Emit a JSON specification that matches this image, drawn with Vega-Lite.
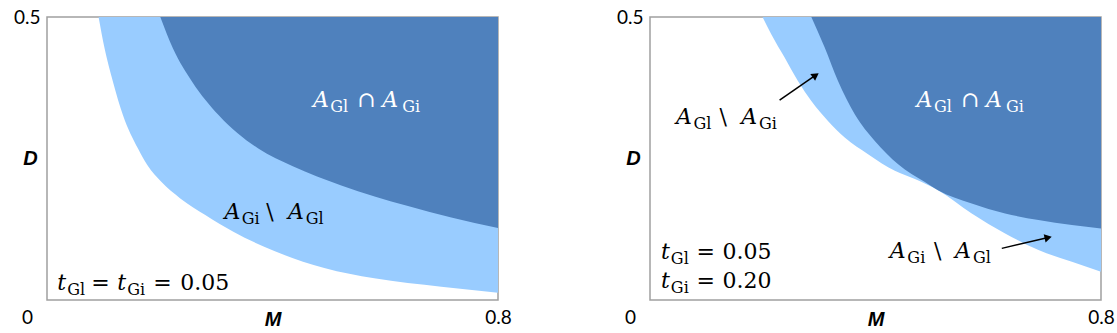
{
  "$schema": "https://vega.github.io/schema/vega-lite/v6.json",
  "background": "white",
  "padding": {"left": 12, "top": 7, "right": 5, "bottom": 5},
  "spacing": 102,
  "config": {
    "view": {"stroke": "#a0a0a0", "strokeWidth": 1.5},
    "axis": {"grid": false, "ticks": false, "domain": false, "labelFont": "Lato", "labelFontSize": 19, "labelColor": "#000000", "titleFont": "Liberation Sans", "titleFontSize": 20, "titleFontWeight": "bold", "titleFontStyle": "italic", "titleColor": "#000000"}
  },
  "datasets": {
    "boundaries": [
      {"panel": "left", "region": "light", "M": 0.0915, "D": 0.5},
      {"panel": "left", "region": "light", "M": 0.1022, "D": 0.4442},
      {"panel": "left", "region": "light", "M": 0.1171, "D": 0.3853},
      {"panel": "left", "region": "light", "M": 0.1348, "D": 0.3265},
      {"panel": "left", "region": "light", "M": 0.1614, "D": 0.2677},
      {"panel": "left", "region": "light", "M": 0.1779, "D": 0.2383},
      {"panel": "left", "region": "light", "M": 0.2027, "D": 0.2088},
      {"panel": "left", "region": "light", "M": 0.2364, "D": 0.1795},
      {"panel": "left", "region": "light", "M": 0.2808, "D": 0.15},
      {"panel": "left", "region": "light", "M": 0.3305, "D": 0.1205},
      {"panel": "left", "region": "light", "M": 0.4032, "D": 0.0865},
      {"panel": "left", "region": "light", "M": 0.4919, "D": 0.0565},
      {"panel": "left", "region": "light", "M": 0.5806, "D": 0.0383},
      {"panel": "left", "region": "light", "M": 0.6994, "D": 0.0235},
      {"panel": "left", "region": "light", "M": 0.8, "D": 0.0129},
      {"panel": "left", "region": "dark", "M": 0.201, "D": 0.5},
      {"panel": "left", "region": "dark", "M": 0.2235, "D": 0.4442},
      {"panel": "left", "region": "dark", "M": 0.2577, "D": 0.3853},
      {"panel": "left", "region": "dark", "M": 0.3047, "D": 0.3265},
      {"panel": "left", "region": "dark", "M": 0.3748, "D": 0.2677},
      {"panel": "left", "region": "dark", "M": 0.436, "D": 0.2365},
      {"panel": "left", "region": "dark", "M": 0.522, "D": 0.2025},
      {"panel": "left", "region": "dark", "M": 0.6403, "D": 0.1659},
      {"panel": "left", "region": "dark", "M": 0.7172, "D": 0.1456},
      {"panel": "left", "region": "dark", "M": 0.8, "D": 0.1271},
      {"panel": "right", "region": "light", "M": 0.1996, "D": 0.5},
      {"panel": "right", "region": "light", "M": 0.2151, "D": 0.4695},
      {"panel": "right", "region": "light", "M": 0.2388, "D": 0.4283},
      {"panel": "right", "region": "light", "M": 0.2624, "D": 0.387},
      {"panel": "right", "region": "light", "M": 0.2862, "D": 0.3517},
      {"panel": "right", "region": "light", "M": 0.3157, "D": 0.3164},
      {"panel": "right", "region": "light", "M": 0.3454, "D": 0.2871},
      {"panel": "right", "region": "light", "M": 0.3868, "D": 0.2577},
      {"panel": "right", "region": "light", "M": 0.4343, "D": 0.2282},
      {"panel": "right", "region": "light", "M": 0.4699, "D": 0.2136},
      {"panel": "right", "region": "light", "M": 0.5108, "D": 0.1941},
      {"panel": "right", "region": "light", "M": 0.5707, "D": 0.153},
      {"panel": "right", "region": "light", "M": 0.6299, "D": 0.1177},
      {"panel": "right", "region": "light", "M": 0.6891, "D": 0.0882},
      {"panel": "right", "region": "light", "M": 0.7484, "D": 0.0676},
      {"panel": "right", "region": "light", "M": 0.8, "D": 0.05},
      {"panel": "right", "region": "dark", "M": 0.2862, "D": 0.5},
      {"panel": "right", "region": "dark", "M": 0.3099, "D": 0.446},
      {"panel": "right", "region": "dark", "M": 0.3335, "D": 0.387},
      {"panel": "right", "region": "dark", "M": 0.3632, "D": 0.3283},
      {"panel": "right", "region": "dark", "M": 0.3988, "D": 0.2811},
      {"panel": "right", "region": "dark", "M": 0.4402, "D": 0.24},
      {"panel": "right", "region": "dark", "M": 0.4876, "D": 0.2083},
      {"panel": "right", "region": "dark", "M": 0.5108, "D": 0.1941},
      {"panel": "right", "region": "dark", "M": 0.5707, "D": 0.1707},
      {"panel": "right", "region": "dark", "M": 0.6299, "D": 0.153},
      {"panel": "right", "region": "dark", "M": 0.6891, "D": 0.1412},
      {"panel": "right", "region": "dark", "M": 0.7484, "D": 0.1324},
      {"panel": "right", "region": "dark", "M": 0.8, "D": 0.1265}
    ],
    "labels": [
      {"panel": "left", "part": "symbol", "text": "A", "on": "dark", "M": 0.4718, "D": 0.3412},
      {"panel": "left", "part": "subscript", "text": "Gl", "on": "dark", "M": 0.5025, "D": 0.3412},
      {"panel": "left", "part": "operator", "text": "∩", "on": "dark", "M": 0.5504, "D": 0.3412},
      {"panel": "left", "part": "symbol", "text": "A", "on": "dark", "M": 0.5945, "D": 0.3412},
      {"panel": "left", "part": "subscript", "text": "Gi", "on": "dark", "M": 0.63, "D": 0.3412},
      {"panel": "left", "part": "symbol", "text": "A", "on": "light", "M": 0.315, "D": 0.143},
      {"panel": "left", "part": "subscript", "text": "Gi", "on": "light", "M": 0.3455, "D": 0.143},
      {"panel": "left", "part": "operator", "text": "\\", "on": "light", "M": 0.389, "D": 0.143},
      {"panel": "left", "part": "symbol", "text": "A", "on": "light", "M": 0.4275, "D": 0.143},
      {"panel": "left", "part": "subscript", "text": "Gl", "on": "light", "M": 0.4591, "D": 0.143},
      {"panel": "left", "part": "symbol", "text": "t", "on": "white", "M": 0.0183, "D": 0.0176},
      {"panel": "left", "part": "subscript", "text": "Gl", "on": "white", "M": 0.036, "D": 0.0176},
      {"panel": "left", "part": "operator", "text": "=", "on": "white", "M": 0.0786, "D": 0.0176},
      {"panel": "left", "part": "symbol", "text": "t", "on": "white", "M": 0.1247, "D": 0.0176},
      {"panel": "left", "part": "subscript", "text": "Gi", "on": "white", "M": 0.1424, "D": 0.0176},
      {"panel": "left", "part": "operator", "text": "=", "on": "white", "M": 0.1885, "D": 0.0176},
      {"panel": "left", "part": "operator", "text": "0.05", "on": "white", "M": 0.2364, "D": 0.0176},
      {"panel": "right", "part": "symbol", "text": "A", "on": "dark", "M": 0.4729, "D": 0.3412},
      {"panel": "right", "part": "subscript", "text": "Gl", "on": "dark", "M": 0.5036, "D": 0.3412},
      {"panel": "right", "part": "operator", "text": "∩", "on": "dark", "M": 0.5516, "D": 0.3412},
      {"panel": "right", "part": "symbol", "text": "A", "on": "dark", "M": 0.5958, "D": 0.3412},
      {"panel": "right", "part": "subscript", "text": "Gi", "on": "dark", "M": 0.6314, "D": 0.3412},
      {"panel": "right", "part": "symbol", "text": "A", "on": "white", "M": 0.0462, "D": 0.3118},
      {"panel": "right", "part": "subscript", "text": "Gl", "on": "white", "M": 0.077, "D": 0.3118},
      {"panel": "right", "part": "operator", "text": "\\", "on": "white", "M": 0.1232, "D": 0.3118},
      {"panel": "right", "part": "symbol", "text": "A", "on": "white", "M": 0.1618, "D": 0.3118},
      {"panel": "right", "part": "subscript", "text": "Gi", "on": "white", "M": 0.1934, "D": 0.3118},
      {"panel": "right", "part": "symbol", "text": "A", "on": "white", "M": 0.4254, "D": 0.0736},
      {"panel": "right", "part": "subscript", "text": "Gi", "on": "white", "M": 0.4565, "D": 0.0736},
      {"panel": "right", "part": "operator", "text": "\\", "on": "white", "M": 0.5036, "D": 0.0736},
      {"panel": "right", "part": "symbol", "text": "A", "on": "white", "M": 0.541, "D": 0.0736},
      {"panel": "right", "part": "subscript", "text": "Gl", "on": "white", "M": 0.573, "D": 0.0736},
      {"panel": "right", "part": "symbol", "text": "t", "on": "white", "M": 0.0196, "D": 0.0718},
      {"panel": "right", "part": "subscript", "text": "Gl", "on": "white", "M": 0.037, "D": 0.0718},
      {"panel": "right", "part": "operator", "text": "=", "on": "white", "M": 0.0823, "D": 0.0718},
      {"panel": "right", "part": "operator", "text": "0.05", "on": "white", "M": 0.1285, "D": 0.0718},
      {"panel": "right", "part": "symbol", "text": "t", "on": "white", "M": 0.0196, "D": 0.0206},
      {"panel": "right", "part": "subscript", "text": "Gi", "on": "white", "M": 0.037, "D": 0.0206},
      {"panel": "right", "part": "operator", "text": "=", "on": "white", "M": 0.0823, "D": 0.0206},
      {"panel": "right", "part": "operator", "text": "0.20", "on": "white", "M": 0.1285, "D": 0.0206}
    ],
    "arrows": [
      {"panel": "right", "arrow": "a1", "M": 0.2939, "D": 0.3971, "M2": 0.2299, "D2": 0.353},
      {"panel": "right", "arrow": "a2", "M": 0.7063, "D": 0.1103, "M2": 0.624, "D2": 0.0912}
    ]
  },
  "hconcat": [
    {
      "width": 451,
      "height": 283,
      "encoding": {
        "x": {"field": "M", "type": "quantitative", "scale": {"domain": [0, 0.8], "nice": false, "zero": false},
          "axis": {"values": [0, 0.8], "format": ".1~f", "title": "M", "labelFlush": false, "labelPadding": 8,
            "labelOffset": {"condition": {"test": "datum.value == 0", "value": -20}, "value": 0},
            "titleX": 225.5, "titleY": 19, "titleBaseline": "middle", "titleAlign": "center"}},
        "y": {"field": "D", "type": "quantitative", "stack": null, "scale": {"domain": [0, 0.5], "nice": false, "zero": false},
          "axis": {"values": [0.5], "format": ".1f", "title": "D", "titleAngle": 0, "titleX": -17, "titleY": 141.5, "titleAlign": "center", "titleBaseline": "middle", "labelPadding": 7}}
      },
      "layer": [
        {"data": {"name": "boundaries"}, "transform": [{"filter": "datum.panel == 'left' && datum.region == 'light'"}],
          "mark": {"type": "area", "color": "#99CCFF", "interpolate": "monotone", "clip": true, "opacity": 1},
          "encoding": {"y2": {"datum": 0.5}}},
        {"data": {"name": "boundaries"}, "transform": [{"filter": "datum.panel == 'left' && datum.region == 'dark'"}],
          "mark": {"type": "area", "color": "#4F81BD", "interpolate": "monotone", "clip": true, "opacity": 1},
          "encoding": {"y2": {"datum": 0.5}}},
        {"data": {"name": "labels"}, "transform": [{"filter": "datum.panel == 'left' && datum.part == 'symbol'"}],
          "mark": {"type": "text", "align": "left", "baseline": "alphabetic", "font": "DejaVu Serif", "fontSize": 22, "fontStyle": "italic"},
          "encoding": {"text": {"field": "text"}, "color": {"field": "on", "type": "nominal", "scale": {"domain": ["dark", "light", "white"], "range": ["#ffffff", "#000000", "#000000"]}, "legend": null}}},
        {"data": {"name": "labels"}, "transform": [{"filter": "datum.panel == 'left' && datum.part == 'operator'"}],
          "mark": {"type": "text", "align": "left", "baseline": "alphabetic", "font": "DejaVu Serif", "fontSize": 22},
          "encoding": {"text": {"field": "text"}, "color": {"field": "on", "type": "nominal", "scale": {"domain": ["dark", "light", "white"], "range": ["#ffffff", "#000000", "#000000"]}, "legend": null}}},
        {"data": {"name": "labels"}, "transform": [{"filter": "datum.panel == 'left' && datum.part == 'subscript'"}],
          "mark": {"type": "text", "align": "left", "baseline": "alphabetic", "font": "DejaVu Serif", "fontSize": 16, "dy": 5},
          "encoding": {"text": {"field": "text"}, "color": {"field": "on", "type": "nominal", "scale": {"domain": ["dark", "light", "white"], "range": ["#ffffff", "#000000", "#000000"]}, "legend": null}}}
      ]
    },
    {
      "width": 451,
      "height": 283,
      "encoding": {
        "x": {"field": "M", "type": "quantitative", "scale": {"domain": [0, 0.8], "nice": false, "zero": false},
          "axis": {"values": [0, 0.8], "format": ".1~f", "title": "M", "labelFlush": false, "labelPadding": 8,
            "labelOffset": {"condition": {"test": "datum.value == 0", "value": -20}, "value": 0},
            "titleX": 225.5, "titleY": 19, "titleBaseline": "middle", "titleAlign": "center"}},
        "y": {"field": "D", "type": "quantitative", "stack": null, "scale": {"domain": [0, 0.5], "nice": false, "zero": false},
          "axis": {"values": [0.5], "format": ".1f", "title": "D", "titleAngle": 0, "titleX": -17, "titleY": 141.5, "titleAlign": "center", "titleBaseline": "middle", "labelPadding": 7}}
      },
      "layer": [
        {"data": {"name": "boundaries"}, "transform": [{"filter": "datum.panel == 'right' && datum.region == 'light'"}],
          "mark": {"type": "area", "color": "#99CCFF", "interpolate": "monotone", "clip": true, "opacity": 1},
          "encoding": {"y2": {"datum": 0.5}}},
        {"data": {"name": "boundaries"}, "transform": [{"filter": "datum.panel == 'right' && datum.region == 'dark'"}],
          "mark": {"type": "area", "color": "#4F81BD", "interpolate": "monotone", "clip": true, "opacity": 1},
          "encoding": {"y2": {"datum": 0.5}}},
        {"data": {"name": "labels"}, "transform": [{"filter": "datum.panel == 'right' && datum.part == 'symbol'"}],
          "mark": {"type": "text", "align": "left", "baseline": "alphabetic", "font": "DejaVu Serif", "fontSize": 22, "fontStyle": "italic"},
          "encoding": {"text": {"field": "text"}, "color": {"field": "on", "type": "nominal", "scale": {"domain": ["dark", "light", "white"], "range": ["#ffffff", "#000000", "#000000"]}, "legend": null}}},
        {"data": {"name": "labels"}, "transform": [{"filter": "datum.panel == 'right' && datum.part == 'operator'"}],
          "mark": {"type": "text", "align": "left", "baseline": "alphabetic", "font": "DejaVu Serif", "fontSize": 22},
          "encoding": {"text": {"field": "text"}, "color": {"field": "on", "type": "nominal", "scale": {"domain": ["dark", "light", "white"], "range": ["#ffffff", "#000000", "#000000"]}, "legend": null}}},
        {"data": {"name": "labels"}, "transform": [{"filter": "datum.panel == 'right' && datum.part == 'subscript'"}],
          "mark": {"type": "text", "align": "left", "baseline": "alphabetic", "font": "DejaVu Serif", "fontSize": 16, "dy": 5},
          "encoding": {"text": {"field": "text"}, "color": {"field": "on", "type": "nominal", "scale": {"domain": ["dark", "light", "white"], "range": ["#ffffff", "#000000", "#000000"]}, "legend": null}}},
        {"data": {"name": "arrows"}, "transform": [{"filter": "datum.panel == 'right'"}],
          "mark": {"type": "rule", "color": "#000000", "strokeWidth": 1.5},
          "encoding": {"x2": {"field": "M2"}, "y2": {"field": "D2"}}},
        {"data": {"name": "arrows"}, "transform": [{"filter": "datum.arrow == 'a1'"}],
          "mark": {"type": "point", "shape": "triangle-right", "filled": true, "size": 70, "angle": -35, "color": "#000000", "opacity": 1}},
        {"data": {"name": "arrows"}, "transform": [{"filter": "datum.arrow == 'a2'"}],
          "mark": {"type": "point", "shape": "triangle-right", "filled": true, "size": 70, "angle": -13, "color": "#000000", "opacity": 1}}
      ]
    }
  ]
}
